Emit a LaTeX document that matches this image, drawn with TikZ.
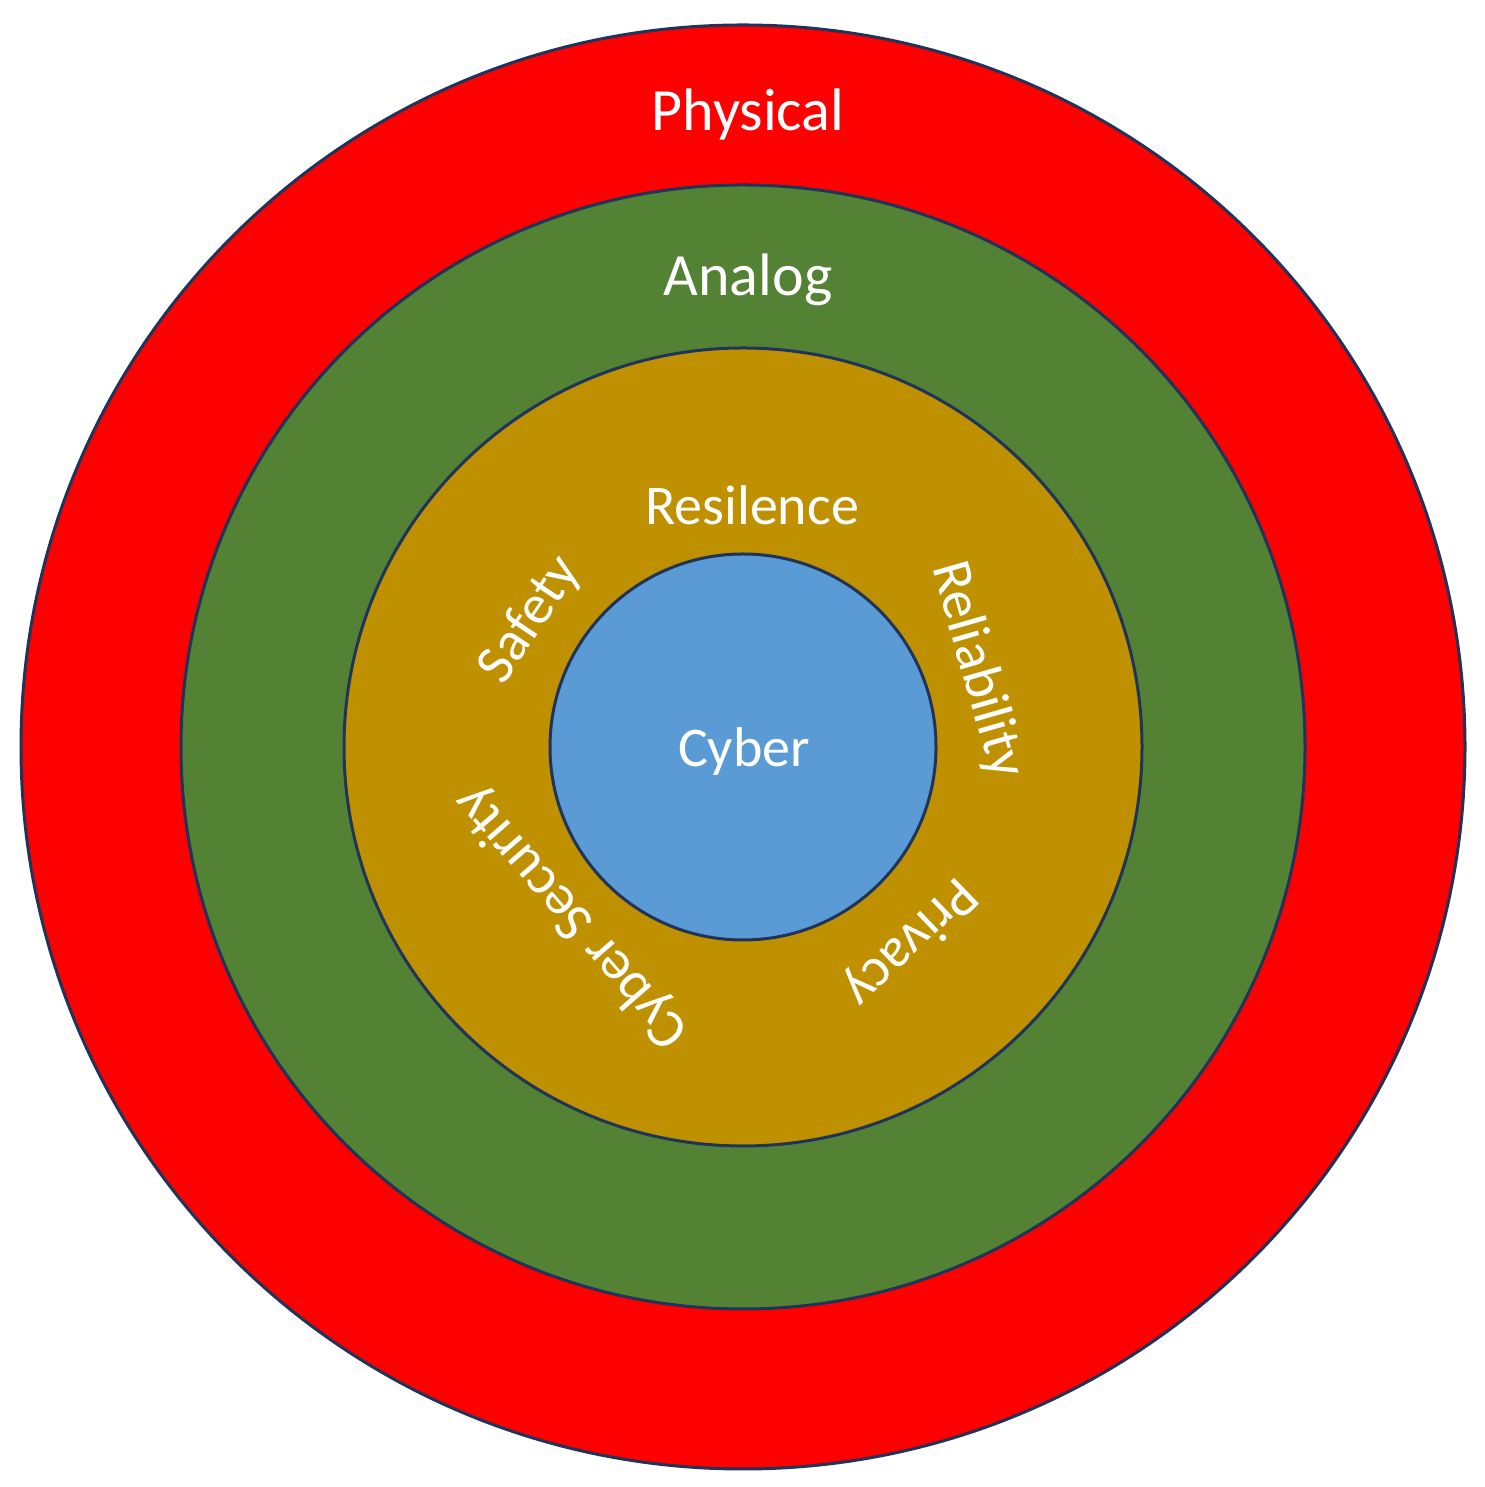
\documentclass[tikz,border=0pt]{standalone}
\usepackage{fontspec}
\setmainfont{Carlito}
\definecolor{cred}{HTML}{FF0000}
\definecolor{cgreen}{HTML}{548235}
\definecolor{cgold}{HTML}{BF9000}
\definecolor{cblue}{HTML}{5B9BD5}
\definecolor{cline}{HTML}{1F3458}
\begin{document}
\begin{tikzpicture}[x=1pt,y=1pt,
  ring/.style={draw=cline,line width=3pt},
  lab/.style={text=white,font=\fontsize{56}{64}\selectfont,inner sep=0pt},
  big/.style={text=white,font=\fontsize{60}{70}\selectfont,inner sep=0pt}]
\useasboundingbox (0,0) rectangle (1484,1487);
\coordinate (c) at (743,740);
\fill[white] (0,0) rectangle (1484,1487);
\node[ring,fill=cred,circle,minimum size=1444pt,inner sep=0pt] (phys) at (c) {};
\node[ring,fill=cgreen,circle,minimum size=1124pt,inner sep=0pt] (anal) at (c) {};
\node[ring,fill=cgold,circle,minimum size=798pt,inner sep=0pt] (res) at (c) {};
\node[ring,fill=cblue,circle,minimum size=386pt,inner sep=0pt] (cyb) at (c) {};
\node[big] (tphys) at (748,1372) {Physical};
\node[big] (tanal) at (748,1207) {Analog};
\node[lab] (tres) at (752,982) {Resilence};
\node[lab] (tcyb) at (744,735) {Cyber};
\node[lab,rotate=56] (tsaf) at (530,867) {Safety};
\node[lab,rotate=-74] (trel) at (977,817) {Reliability};
\node[lab,rotate=224] (tpriv) at (910,545) {Privacy};
\node[lab,rotate=131] (tsec) at (572,570) {Cyber Security};
\end{tikzpicture}
\end{document}
